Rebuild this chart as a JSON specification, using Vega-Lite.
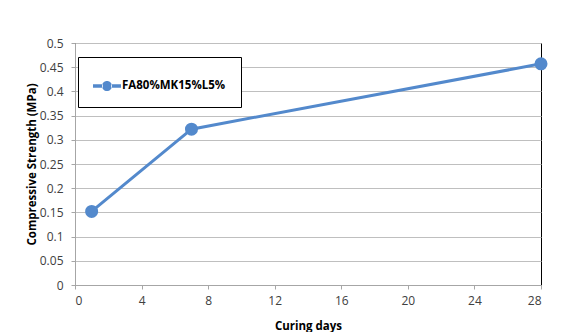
{
  "$schema": "https://vega.github.io/schema/vega-lite/v6.json",
  "width": 466,
  "height": 242,
  "autosize": {"type": "none"},
  "padding": {"left": 75, "top": 43, "right": 44, "bottom": 47},
  "background": "#ffffff",
  "config": {
    "font": "Open Sans",
    "view": {"stroke": "#000000", "strokeWidth": 1},
    "axis": {
      "labelFont": "Open Sans",
      "labelFontSize": 12,
      "labelColor": "#404040",
      "titleFont": "Open Sans",
      "titleFontSize": 11.5,
      "titleFontWeight": "bold",
      "titleColor": "#000000",
      "domainColor": "#a6a6a6",
      "tickColor": "#a6a6a6",
      "tickSize": 4
    }
  },
  "data": {
    "values": [
      {"days": 1, "strength": 0.152, "mix": "FA80%MK15%L5%"},
      {"days": 7, "strength": 0.322, "mix": "FA80%MK15%L5%"},
      {"days": 28, "strength": 0.457, "mix": "FA80%MK15%L5%"}
    ]
  },
  "encoding": {
    "x": {
      "field": "days",
      "type": "quantitative",
      "title": "Curing days",
      "scale": {"domain": [0, 28], "nice": false},
      "axis": {
        "values": [0, 4, 8, 12, 16, 20, 24, 28],
        "grid": false,
        "labelPadding": 6,
        "titlePadding": 14
      }
    },
    "y": {
      "field": "strength",
      "type": "quantitative",
      "title": "Compressive Strength (MPa)",
      "scale": {"domain": [0, 0.5], "nice": false},
      "axis": {
        "values": [0, 0.05, 0.1, 0.15, 0.2, 0.25, 0.3, 0.35, 0.4, 0.45, 0.5],
        "format": ".2~f",
        "grid": true,
        "gridColor": "#bfbfbf",
        "labelPadding": 8,
        "titlePadding": 2
      }
    },
    "color": {
      "field": "mix",
      "type": "nominal",
      "title": null,
      "scale": {"range": ["#5389cc"]},
      "legend": {
        "orient": "none",
        "legendX": 3,
        "legendY": 14,
        "padding": 15,
        "strokeColor": "#000000",
        "fillColor": "#ffffff",
        "symbolType": "M-1,-0.12H-0.3V0.12H-1Z M0.3,-0.12H1V0.12H0.3Z M-0.36,0A0.36,0.36 0 1,0 0.36,0A0.36,0.36 0 1,0 -0.36,0Z",
        "symbolSize": 784,
        "symbolStrokeWidth": 0,
        "symbolOpacity": 1,
        "labelFont": "Open Sans",
        "labelFontSize": 11.5,
        "labelFontWeight": "bold",
        "labelColor": "#000000",
        "labelOffset": 1
      }
    }
  },
  "layer": [
    {
      "mark": {"type": "line", "strokeWidth": 3}
    },
    {
      "mark": {"type": "point", "filled": true, "shape": "circle", "size": 170, "opacity": 1}
    }
  ]
}
